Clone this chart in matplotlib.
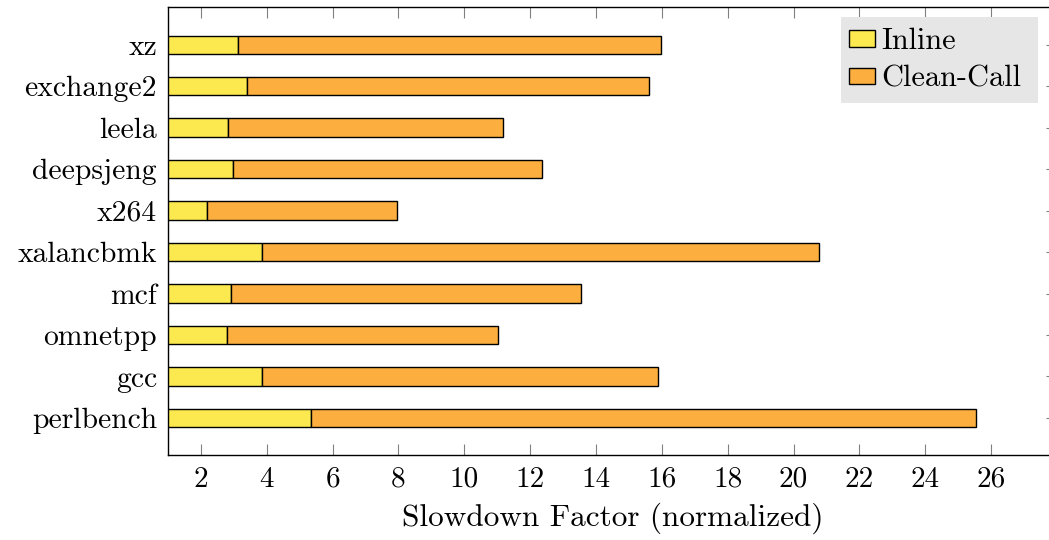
import matplotlib
matplotlib.use("Agg")
import matplotlib.pyplot as plt
from matplotlib.patches import Patch, Rectangle
import numpy as np

benchmarks = ["perlbench", "gcc", "omnetpp", "mcf", "xalancbmk",
              "x264", "deepsjeng", "leela", "exchange2", "xz"]
inline = [5.34, 3.84, 2.80, 2.90, 3.84, 2.19, 2.98, 2.83, 3.39, 3.14]
clean_call = [20.20, 12.04, 8.22, 10.63, 16.94, 5.77, 9.38, 8.33, 12.23, 12.84]
xticks = list(range(2, 28, 2))

plt.rcParams['font.family'] = ['cmr10']
plt.rcParams['mathtext.fontset'] = 'cm'
plt.rcParams['axes.formatter.use_mathtext'] = True
plt.rcParams['axes.unicode_minus'] = False

W, H = 1049, 540
fig = plt.figure(figsize=(W/100, H/100), dpi=100)
ax = fig.add_axes([168/W, 1 - 455.3/H, (1057-168)/W, (455.3-7.3)/H])

y = np.arange(len(benchmarks))
h = 0.44
ax.barh(y, inline, left=0, height=h, color='#fce94f', edgecolor='black',
        linewidth=1.0, label='Inline', zorder=2)
ax.barh(y, clean_call, left=inline, height=h, color='#fcaf3e',
        edgecolor='black', linewidth=1.0, label='Clean-Call', zorder=2)

ax.set_xlim(1, 28)
ax.set_ylim(-0.9, 9.9)
ax.set_xticks(xticks)
ax.set_xticklabels([str(t) for t in xticks], fontsize=21)
ax.set_yticks(y)
ax.set_yticklabels(benchmarks, fontsize=21.3)

ax.tick_params(axis='x', direction='in', top=True, bottom=True, length=7.7,
               width=0.8, color='0.5', pad=8)
ax.tick_params(axis='y', direction='in', left=False, right=True, length=7.7,
               width=0.8, color='0.5', pad=8)
for s in ax.spines.values():
    s.set_linewidth(1.0)
    s.set_color('black')

ax.set_xlabel('Slowdown Factor (normalized)', fontsize=22.5, labelpad=7)

# legend background
fig.add_artist(Rectangle((841/W, 1 - 102.7/H), (1037.7-841)/W, (102.7-16.7)/H,
                         transform=fig.transFigure, facecolor='#e6e6e6',
                         edgecolor='none', zorder=5))

handles = [Patch(facecolor='#fce94f', edgecolor='black', linewidth=1.0),
           Patch(facecolor='#fcaf3e', edgecolor='black', linewidth=1.0)]
LFS = 21.8
fspx = LFS * 100 / 72
leg = fig.legend(handles, ['Inline', 'Clean-Call'], loc='upper left',
                 bbox_to_anchor=(849/W, 1 - 28/H), bbox_transform=fig.transFigure,
                 fontsize=LFS, frameon=False, borderaxespad=0, borderpad=0,
                 handlelength=26/fspx, handleheight=14.3/fspx, handletextpad=0.2,
                 labelspacing=0.33)
leg.set_zorder(6)

fig.savefig('out.png', dpi=100)
